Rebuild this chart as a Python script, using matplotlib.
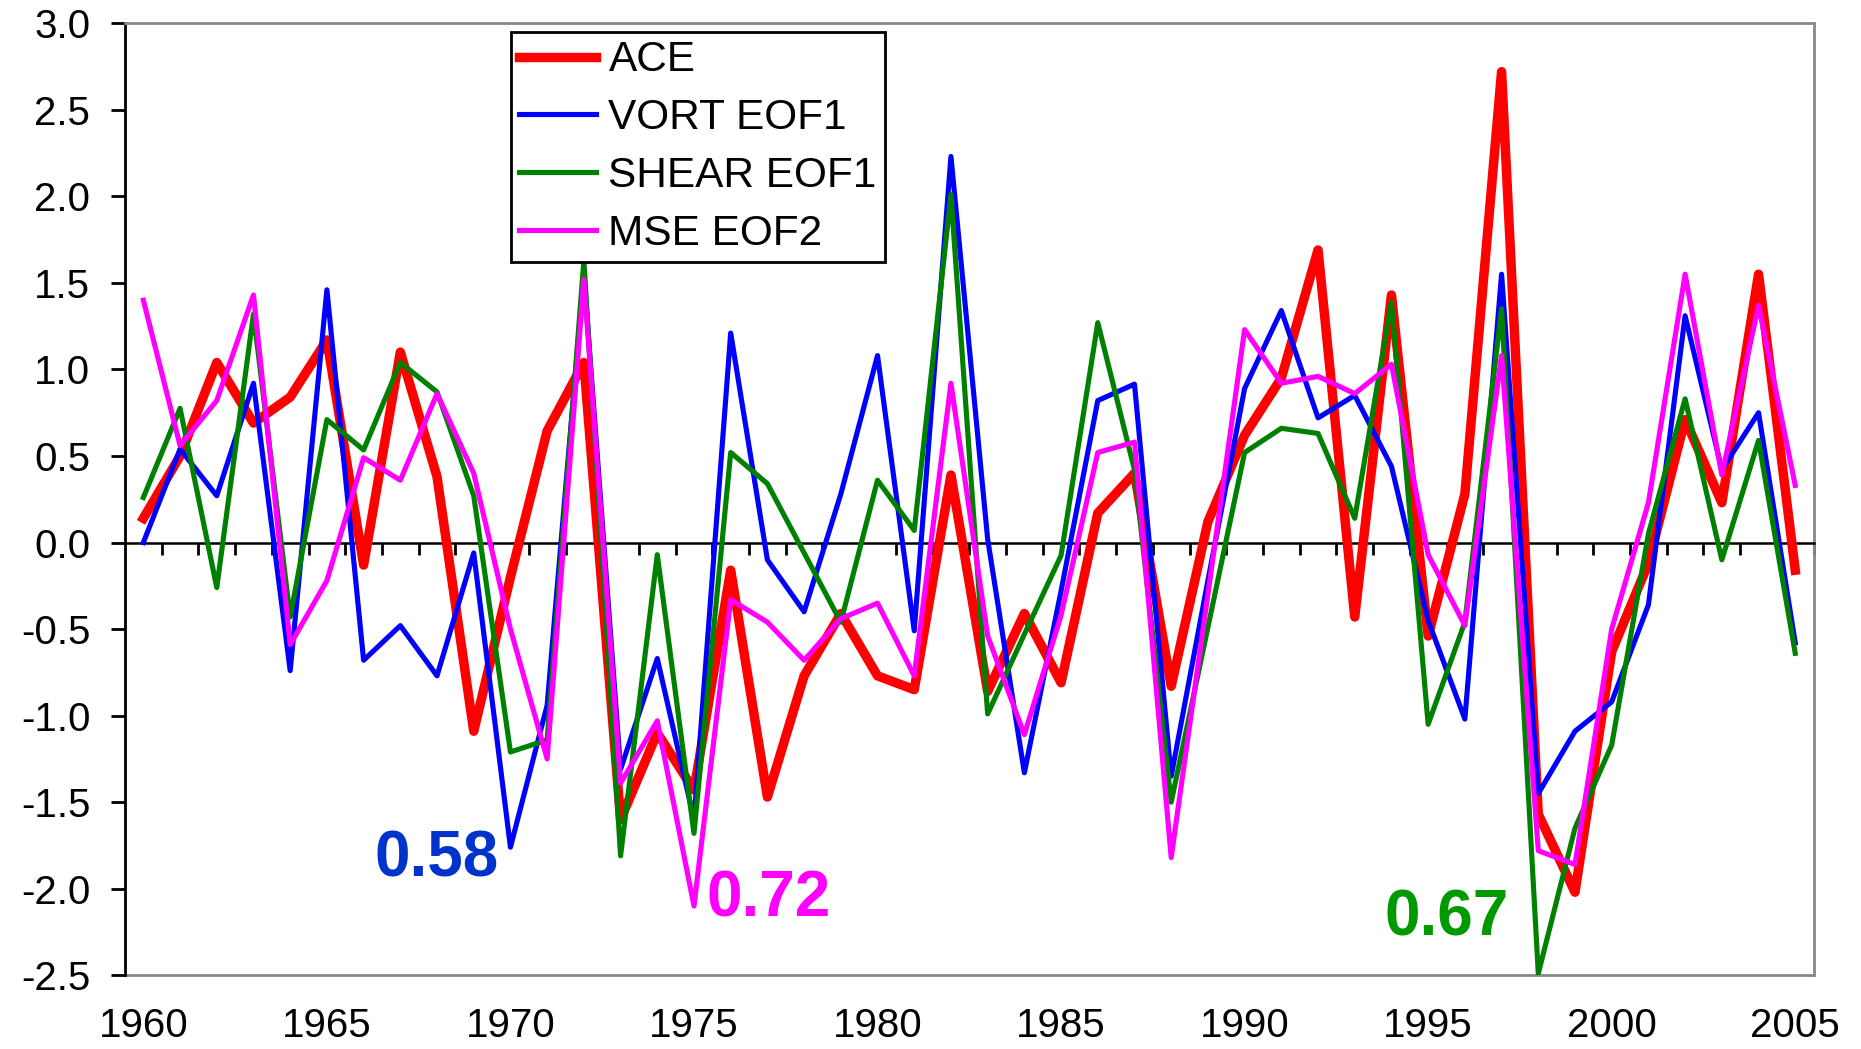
import numpy as np
import matplotlib
matplotlib.use("Agg")
import matplotlib.pyplot as plt

plt.rcParams['font.family'] = ['Liberation Sans', 'DejaVu Sans']
plt.rcParams['axes.unicode_minus'] = False

years = list(range(1960, 2006))

ace = [0.14, 0.50, 1.04, 0.69, 0.84, 1.17, -0.13, 1.10, 0.38, -1.09,
       -0.20, 0.645, 1.04, -1.60, -1.10, -1.43, -0.16, -1.47, -0.77, -0.41,
       -0.77, -0.85, 0.39, -0.86, -0.41, -0.81, 0.17, 0.40, -0.83, 0.12,
       0.62, 0.95, 1.69, -0.43, 1.43, -0.54, 0.28, 2.72, -1.57, -2.02,
       -0.63, -0.12, 0.71, 0.23, 1.55, -0.16]

vort = [0.00, 0.54, 0.27, 0.92, -0.74, 1.46, -0.68, -0.48, -0.77, -0.06,
        -1.76, -0.94, 1.55, -1.31, -0.67, -1.60, 1.21, -0.10, -0.40, 0.28,
        1.08, -0.51, 2.23, 0.02, -1.33, -0.28, 0.82, 0.915, -1.35, -0.22,
        0.89, 1.34, 0.72, 0.85, 0.44, -0.45, -1.02, 1.55, -1.45, -1.09,
        -0.92, -0.36, 1.31, 0.42, 0.75, -0.58]

shear = [0.26, 0.775, -0.26, 1.32, -0.43, 0.71, 0.535, 1.04, 0.87, 0.27,
         -1.21, -1.14, 1.63, -1.81, -0.07, -1.68, 0.52, 0.34, -0.06, -0.46,
         0.36, 0.07, 2.01, -0.99, -0.53, -0.075, 1.27, 0.42, -1.50, -0.49,
         0.52, 0.66, 0.63, 0.14, 1.39, -1.05, -0.46, 1.35, -2.49, -1.65,
         -1.17, 0.05, 0.83, -0.10, 0.59, -0.64]

mse = [1.40, 0.56, 0.82, 1.43, -0.59, -0.22, 0.49, 0.36, 0.86, 0.40,
       -0.50, -1.25, 1.52, -1.39, -1.03, -2.10, -0.33, -0.46, -0.68, -0.44,
       -0.35, -0.77, 0.92, -0.54, -1.11, -0.42, 0.52, 0.58, -1.82, -0.30,
       1.23, 0.92, 0.96, 0.86, 1.03, -0.07, -0.48, 1.08, -1.78, -1.86,
       -0.50, 0.23, 1.55, 0.39, 1.37, 0.33]

series_names = ["ACE", "VORT EOF1", "SHEAR EOF1", "MSE EOF2"]
year_labels = [1960, 1965, 1970, 1975, 1980, 1985, 1990, 1995, 2000, 2005]
y_ticks = [-2.5, -2.0, -1.5, -1.0, -0.5, 0.0, 0.5, 1.0, 1.5, 2.0, 2.5, 3.0]

corr_labels = ["0.58", "0.72", "0.67"]
corr_x = [1968.0, 1977.03, 1995.51]
corr_y = [-1.83, -2.06, -2.17]
corr_colors = ["#0033CC", "#FF00FF", "#009900"]

W, H = 1861, 1049
fig = plt.figure(figsize=(W / 100, H / 100), dpi=100)
ax = fig.add_axes([125 / W, 1 - 975.3 / H, (1813.6 - 125) / W, (975.3 - 23.2) / H])

ax.plot(years, ace, color="#FF0000", lw=6.8, label=series_names[0], zorder=3)
ax.plot(years, vort, color="#0000FF", lw=3.7, label=series_names[1], zorder=4)
ax.plot(years, shear, color="#008000", lw=3.7, label=series_names[2], zorder=5)
ax.plot(years, mse, color="#FF00FF", lw=3.7, label=series_names[3], zorder=6)

ax.set_xlim(1959.5, 2005.5)
ax.set_ylim(-2.5, 3.0)

# zero line as the category axis, with ticks between categories
ax.spines['bottom'].set_position(('data', 0))
ax.spines['bottom'].set_color('black')
ax.spines['bottom'].set_linewidth(1.8)
ax.set_xticks(np.arange(1960.5, 2005.6, 1.0))
ax.set_xticklabels([])
ax.tick_params(axis='x', direction='out', length=8.5, width=2.0, color='black')

ax.spines['left'].set_color('black')
ax.spines['left'].set_linewidth(2.0)
for s in ['top', 'right']:
    ax.spines[s].set_color('#888888')
    ax.spines[s].set_linewidth(2.0)

ax.set_yticks(y_ticks)
ax.set_yticklabels([f"{v:.1f}" for v in y_ticks])
ax.tick_params(axis='y', direction='out', length=10, width=2.0, pad=15, labelsize=29)

sec = ax.secondary_xaxis(0)
sec.set_xticks(year_labels)
sec.set_xticklabels([str(y) for y in year_labels])
sec.tick_params(axis='x', length=0, pad=23, labelsize=29)
sec.spines['bottom'].set_color('#888888')
sec.spines['bottom'].set_linewidth(2.0)

for t, x, y, c in zip(corr_labels, corr_x, corr_y, corr_colors):
    ax.text(x, y, t, color=c, fontsize=46, fontweight='bold', ha='center', va='center', zorder=8)

leg = ax.legend(loc='upper left', bbox_to_anchor=(511 / W, 1 - 32 / H),
                bbox_transform=fig.transFigure, fontsize=30.5, frameon=True,
                fancybox=False, framealpha=1, edgecolor='black',
                handlelength=1.8, handletextpad=0.3, labelspacing=0.42,
                borderpad=0.2, borderaxespad=0)
leg.get_frame().set_linewidth(2.0)
leg.set_zorder(10)

fig.savefig("out.png", dpi=100)
